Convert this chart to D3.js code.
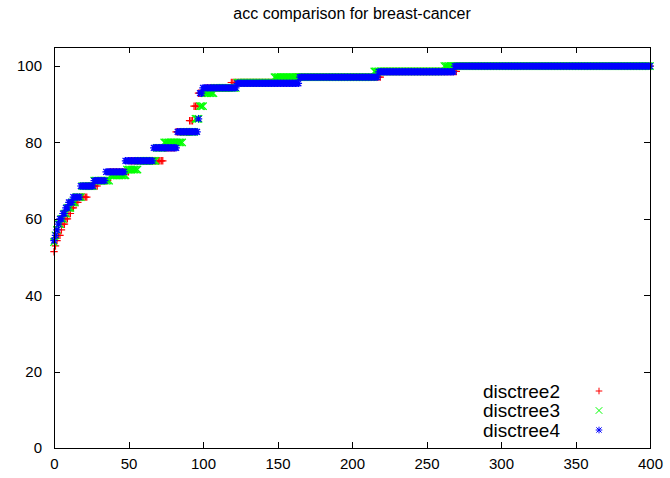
<!DOCTYPE html>
<html>
<head>
<meta charset="utf-8">
<script src="https://cdn.jsdelivr.net/npm/d3@7"></script>
<style>
  body { margin: 0; background: #fff; }
  text { font-family: "Liberation Sans", Arial, sans-serif; fill: #000; }
</style>
</head>
<body>
<div id="plot"></div>
<script>
// Sorted accuracy values, stored as runs: level value and how many points sit on it
var disctree2Levels = [51.4, 52.9, 54.3, 55.7, 57.1, 58.6, 60.0, 61.4, 62.9, 64.3, 65.7, 68.6, 70.0, 72.3, 75.2, 78.6, 82.8, 85.7, 89.5, 92.9, 94.3, 95.7, 97.1, 98.6, 100];
var disctree2Counts = [1, 1, 1, 2, 1, 2, 2, 2, 2, 3, 6, 7, 7, 14, 23, 8, 9, 3, 3, 5, 17, 42, 59, 51, 130];

var disctree3Levels = [53.9, 55.7, 57.1, 58.6, 60.0, 61.4, 62.9, 64.3, 65.7, 68.6, 70.0, 71.4, 72.9, 75.2, 78.6, 80.0, 82.8, 86.2, 89.5, 92.9, 94.3, 95.7, 97.1, 98.6, 100];
var disctree3Counts = [1, 1, 1, 2, 2, 2, 3, 3, 4, 8, 11, 11, 8, 12, 5, 13, 8, 3, 3, 7, 15, 25, 67, 47, 139];

var disctree4Levels = [54.3, 55.7, 57.1, 58.6, 60.0, 61.4, 62.9, 64.3, 65.7, 68.6, 70.0, 72.3, 75.2, 78.6, 82.8, 86.2, 92.9, 94.3, 95.5, 97.1, 98.5, 100];
var disctree4Counts = [1, 1, 1, 1, 2, 2, 2, 3, 5, 9, 8, 13, 19, 16, 14, 1, 2, 23, 42, 53, 51, 132];

var seriesNames = ['disctree2', 'disctree3', 'disctree4'];
var seriesColors = ['#ff0000', '#00ff00', '#0000ff'];
var seriesShapes = ['plus', 'cross', 'star'];

var xTicks = [0, 50, 100, 150, 200, 250, 300, 350, 400];
var yTicks = [0, 20, 40, 60, 80, 100];

var chartTitle = 'acc comparison for breast-cancer';

// expand runs into (index, value) points
function expand(levels, counts) {
    var pts = [];
    var i = 0;
    for (let k = 0; k < levels.length; k++) {
        for (let c = 0; c < counts[k]; c++) {
            pts.push({x: i, y: levels[k]});
            i++;
        }
    }
    return pts;
}

var allSeries = [
    expand(disctree2Levels, disctree2Counts),
    expand(disctree3Levels, disctree3Counts),
    expand(disctree4Levels, disctree4Counts)
];

var width = 670;
var height = 478;
var padLeft = 54, padRight = 650, padTop = 47, padBottom = 448;

var svg = d3.select('#plot')
    .append('svg')
    .attr('width', width)
    .attr('height', height);

var xScale = d3.scaleLinear().domain([0, 400]).range([padLeft, padRight]);
var yScale = d3.scaleLinear().domain([0, 105]).range([padBottom, padTop]);

// marker path generators
function markerPath(shape, s) {
    if (shape == 'plus') {
        return 'M' + (-s) + ',0H' + s + 'M0,' + (-s) + 'V' + s;
    } else if (shape == 'cross') {
        return 'M' + (-s) + ',' + (-s) + 'L' + s + ',' + s + 'M' + (-s) + ',' + s + 'L' + s + ',' + (-s);
    }
    var d = s * 0.8;
    return 'M' + (-s) + ',0H' + s + 'M0,' + (-s) + 'V' + s +
        'M' + (-d) + ',' + (-d) + 'L' + d + ',' + d + 'M' + (-d) + ',' + d + 'L' + d + ',' + (-d);
}

// Title
svg.append('text')
    .attr('x', (padLeft + padRight) / 2)
    .attr('y', 19)
    .attr('text-anchor', 'middle')
    .style('font-size', '16px')
    .text(chartTitle);

// Axes: ticks inward, mirrored on top and right
svg.append('g')
    .attr('transform', 'translate(0,' + padBottom + ')')
    .call(d3.axisBottom(xScale).tickValues(xTicks).tickSizeInner(-6).tickSizeOuter(0).tickPadding(10))
    .call(function(g) {
        g.select('.domain').remove();
        g.selectAll('text').style('font-size', '15px').attr('font-family', null);
    });

svg.append('g')
    .attr('transform', 'translate(0,' + padTop + ')')
    .call(d3.axisTop(xScale).tickValues(xTicks).tickSizeInner(-6).tickSizeOuter(0).tickFormat(''))
    .call(function(g) { g.select('.domain').remove(); });

svg.append('g')
    .attr('transform', 'translate(' + padLeft + ',0)')
    .call(d3.axisLeft(yScale).tickValues(yTicks).tickSizeInner(-6).tickSizeOuter(0).tickPadding(12))
    .call(function(g) {
        g.select('.domain').remove();
        g.selectAll('text').style('font-size', '15px').attr('font-family', null);
    });

svg.append('g')
    .attr('transform', 'translate(' + padRight + ',0)')
    .call(d3.axisRight(yScale).tickValues(yTicks).tickSizeInner(-6).tickSizeOuter(0).tickFormat(''))
    .call(function(g) { g.select('.domain').remove(); });

svg.selectAll('.tick line').attr('stroke', '#000').attr('shape-rendering', 'crispEdges');

// Points, red first so blue ends on top
allSeries.forEach(function(pts, i) {
    svg.append('g')
        .selectAll('path')
        .data(pts)
        .enter()
        .append('path')
        .attr('transform', function(d) { return 'translate(' + xScale(d.x) + ',' + yScale(d.y) + ')'; })
        .attr('d', markerPath(seriesShapes[i], 3.7))
        .attr('fill', 'none')
        .attr('stroke', seriesColors[i])
        .attr('stroke-width', 1.2);
});

// Frame
svg.append('rect')
    .attr('x', padLeft)
    .attr('y', padTop)
    .attr('width', padRight - padLeft)
    .attr('height', padBottom - padTop)
    .attr('fill', 'none')
    .attr('stroke', '#000')
    .attr('shape-rendering', 'crispEdges');

// Legend
var legend = svg.append('g');
seriesNames.forEach(function(name, i) {
    var ly = 391 + i * 19.5;
    legend.append('text')
        .attr('x', 560)
        .attr('y', ly)
        .attr('dy', '0.35em')
        .attr('text-anchor', 'end')
        .style('font-size', '19px')
        .text(name);
    legend.append('path')
        .attr('transform', 'translate(599,' + ly + ')')
        .attr('d', markerPath(seriesShapes[i], 3.3))
        .attr('fill', 'none')
        .attr('stroke', seriesColors[i]);
});
</script>
</body>
</html>
